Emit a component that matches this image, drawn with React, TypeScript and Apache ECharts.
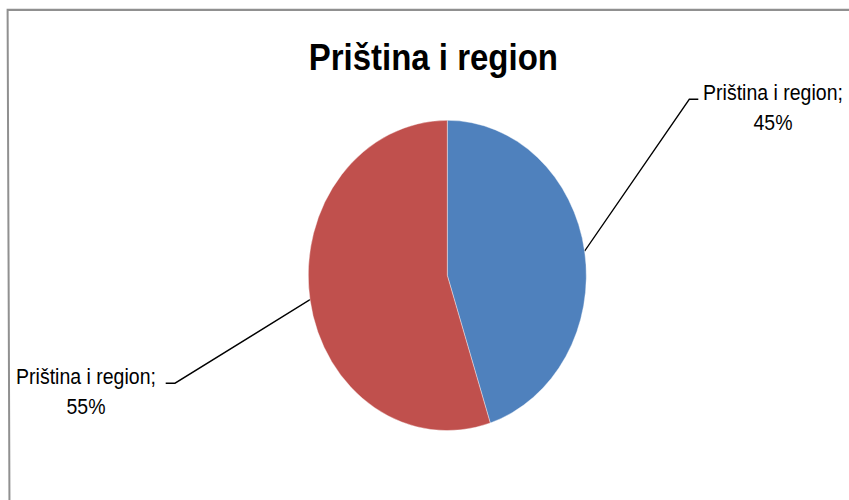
import React, { useEffect, useRef } from 'react';
import * as echarts from 'echarts';

const titleText = 'Priština i region';
const categories = ['Priština i region', 'Priština i region'];
const values = [45, 55];
const colors = ['#4F81BD', '#C0504D'];

const W = 849;
const H = 448;
const SY = 500 / H;

export default function App() {
  const ref = useRef<HTMLDivElement>(null);
  useEffect(() => {
    const chart = echarts.init(ref.current as HTMLDivElement, null, { renderer: 'svg' });
    const labelSpots = [
      { x: 773, y: 95.7, elbow: [689.3, 89.0], end: [698.3, 89.0] },
      { x: 86, y: 350.8, elbow: [175, 343.4], end: [165.7, 343.4] },
    ];
    chart.setOption({
      animation: false,
      graphic: [
        {
          type: 'polyline',
          silent: true,
          shape: { points: [[9.5, 460], [7.6, 8.8], [870, 8.8]] },
          style: { stroke: '#909090', lineWidth: 2, fill: 'none' },
        },
        {
          type: 'text',
          x: 433.3,
          y: 50.7,
          style: {
            text: titleText,
            font: 'bold 33px "Liberation Sans"',
            fontFamily: 'Liberation Sans',
            fontSize: 33,
            fontWeight: 'bold',
            align: 'center',
            verticalAlign: 'middle',
            textAlign: 'center',
            textVerticalAlign: 'middle',
            fill: '#000',
          },
        },
      ],
      series: [
        {
          type: 'pie',
          center: [447.3, 246.8],
          radius: 139,
          startAngle: 90,
          clockwise: true,
          data: categories.map((n, i) => ({ name: n, value: values[i], itemStyle: { color: colors[i] } })),
          itemStyle: { borderColor: 'rgba(255,255,255,0.6)', borderWidth: 0.6 },
          label: {
            show: true,
            formatter: '{b};\n{c}%',
            fontFamily: 'Liberation Sans',
            fontSize: 19.5,
            lineHeight: 27,
            color: '#000',
            align: 'center',
          },
          labelLine: { show: true, length: 20, length2: 10, lineStyle: { color: '#000', width: 1.3 } },
          labelLayout: (p: any) => {
            const s = labelSpots[p.dataIndex];
            const start = p.labelLinePoints && p.labelLinePoints[0] ? p.labelLinePoints[0] : s.elbow;
            return {
              x: s.x,
              y: s.y,
              align: 'center',
              verticalAlign: 'middle',
              labelLinePoints: [start, s.elbow, s.end],
            };
          },
        },
      ],
    });
    return () => chart.dispose();
  }, []);
  return (
    <div style={{ position: 'fixed', left: 0, top: 0, width: W, height: 500, overflow: 'hidden', background: '#fff' }}>
      <div
        ref={ref}
        style={{ width: W, height: H, transform: `scaleY(${SY})`, transformOrigin: '0 0' }}
      />
    </div>
  );
}
